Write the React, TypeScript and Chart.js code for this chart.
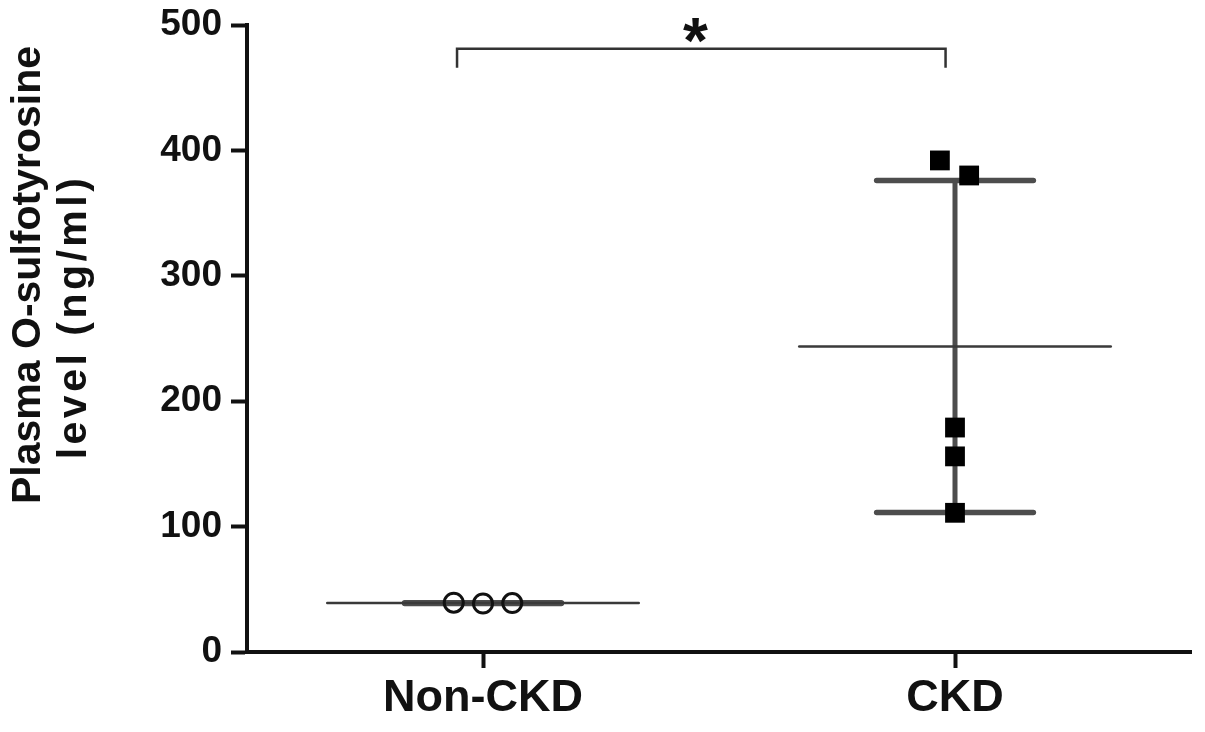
import React, { useEffect, useRef } from "react";
import { Chart, registerables } from "chart.js";

Chart.register(...registerables);

// ---- data ----
const categories: string[] = ["Non-CKD", "CKD"];
const nonCkdValues: number[] = [39.3, 38.7, 39.0];
const ckdValues: number[] = [392, 380, 179, 156, 111];
const yTicks: number[] = [0, 100, 200, 300, 400, 500];
const yTitleLines: string[] = ["Plasma O-sulfotyrosine", "level (ng/ml)"];
const significanceLabel = "*";

// ---- layout / style constants (not data) ----
const nonCkdJitter = [-0.062, 0, 0.062];
const ckdJitter = [-0.032, 0.03, 0, 0, 0];
const MEAN_HALF = 0.33;
const CAP_HALF = 0.166;
const FONT = "'Liberation Sans', Arial, Helvetica, sans-serif";

function stats(v: number[]) {
  const m = v.reduce((a, b) => a + b, 0) / v.length;
  const sd = Math.sqrt(v.reduce((a, b) => a + (b - m) * (b - m), 0) / (v.length - 1));
  return { m, sd };
}

const groups = [nonCkdValues, ckdValues];

const App: React.FC = () => {
  const ref = useRef<HTMLCanvasElement | null>(null);

  useEffect(() => {
    if (!ref.current) return;
    const datasets: any[] = [];

    datasets.push({
      label: categories[0],
      data: nonCkdValues.map((y, k) => ({ x: 0 + nonCkdJitter[k], y })),
      pointStyle: "circle",
      pointRadius: 9.5,
      pointBorderWidth: 3,
      pointBorderColor: "#111",
      pointBackgroundColor: "rgba(0,0,0,0)",
      showLine: false,
      order: 0,
    });
    datasets.push({
      label: categories[1],
      data: ckdValues.map((y, k) => ({ x: 1 + ckdJitter[k], y })),
      pointStyle: "rect",
      pointRadius: 14,
      pointBorderWidth: 0,
      pointBackgroundColor: "#000",
      pointBorderColor: "#000",
      showLine: false,
      order: 0,
    });

    groups.forEach((vals, i) => {
      const { m, sd } = stats(vals);
      const lineDs = (data: any[], width: number, color: string) => ({
        data,
        showLine: true,
        borderColor: color,
        borderWidth: width,
        pointRadius: 0,
        borderCapStyle: "round",
        order: 2,
      });
      datasets.push(lineDs([{ x: i - MEAN_HALF, y: m }, { x: i + MEAN_HALF, y: m }], 2.5, "#3a3a3a"));
      datasets.push(lineDs([{ x: i, y: m - sd }, { x: i, y: m + sd }], 5, "#4d4d4d"));
      datasets.push(lineDs([{ x: i - CAP_HALF, y: m + sd }, { x: i + CAP_HALF, y: m + sd }], 5.5, "#4d4d4d"));
      datasets.push(lineDs([{ x: i - CAP_HALF, y: m - sd }, { x: i + CAP_HALF, y: m - sd }], 5.5, "#4d4d4d"));
    });

    const overlay = {
      id: "overlay",
      afterDraw(chart: any) {
        const ctx = chart.ctx;
        const xs = chart.scales.x;
        const ys = chart.scales.y;
        ctx.save();
        // significance bracket
        const x1 = xs.getPixelForValue(-0.055);
        const x2 = xs.getPixelForValue(0.98);
        const yt = ys.getPixelForValue(481);
        const yb = ys.getPixelForValue(466);
        ctx.strokeStyle = "#333";
        ctx.lineWidth = 2.5;
        ctx.beginPath();
        ctx.moveTo(x1, yb);
        ctx.lineTo(x1, yt);
        ctx.lineTo(x2, yt);
        ctx.lineTo(x2, yb);
        ctx.stroke();
        ctx.fillStyle = "#111";
        ctx.font = `bold 64px ${FONT}`;
        ctx.textAlign = "center";
        ctx.textBaseline = "alphabetic";
        ctx.fillText(significanceLabel, xs.getPixelForValue(0.45), ys.getPixelForValue(470));
        // y title
        ctx.font = `bold 41px ${FONT}`;
        ctx.textBaseline = "middle";
        const pos = [
          [29, 275],
          [75, 317],
        ];
        const spacing = ["0px", "3.5px"];
        yTitleLines.forEach((t, k) => {
          ctx.save();
          ctx.translate(pos[k][0], pos[k][1]);
          ctx.rotate(-Math.PI / 2);
          try {
            (ctx as any).letterSpacing = spacing[k];
          } catch (e) {}
          ctx.fillText(t, 0, 0);
          ctx.restore();
        });
        ctx.restore();
      },
    };

    const chart = new Chart(ref.current, {
      type: "scatter",
      data: { datasets },
      plugins: [overlay],
      options: {
        animation: false,
        responsive: false,
        layout: { padding: { left: 0, top: 25, right: 12, bottom: 0 } },
        plugins: { legend: { display: false }, tooltip: { enabled: false } },
        scales: {
          x: {
            type: "linear",
            min: -0.5,
            max: 1.5,
            afterBuildTicks: (s: any) => {
              s.ticks = categories.map((_, i) => ({ value: i }));
            },
            afterFit: (s: any) => {
              s.height = 80;
              s.paddingLeft = 0;
              s.paddingRight = 0;
            },
            ticks: {
              autoSkip: false,
              maxRotation: 0,
              color: "#111",
              padding: 4,
              font: { family: FONT, size: 45, weight: "bold" },
              callback: (_v: any, idx: number) => categories[idx],
            },
            grid: {
              drawOnChartArea: false,
              drawTicks: true,
              tickLength: 16,
              tickWidth: 4,
              tickColor: "#111",
            },
            border: { display: true, color: "#111", width: 4 },
          },
          y: {
            type: "linear",
            min: 0,
            max: 500,
            afterBuildTicks: (s: any) => {
              s.ticks = yTicks.map((v) => ({ value: v }));
            },
            afterFit: (s: any) => {
              s.width = 247;
              s.paddingTop = 0;
              s.paddingBottom = 0;
            },
            ticks: {
              color: "#111",
              padding: 9,
              font: { family: FONT, size: 37, weight: "bold" },
              callback: (v: any) => String(v),
            },
            grid: {
              drawOnChartArea: false,
              drawTicks: true,
              tickLength: 16,
              tickWidth: 4,
              tickColor: "#111",
            },
            border: { display: true, color: "#111", width: 4 },
          },
        },
      },
    } as any);
    return () => chart.destroy();
  }, []);

  return (
    <canvas
      ref={ref}
      width={1205}
      height={732}
      style={{ position: "absolute", left: 0, top: 0, display: "block", background: "#fff" }}
    />
  );
};

export default App;
